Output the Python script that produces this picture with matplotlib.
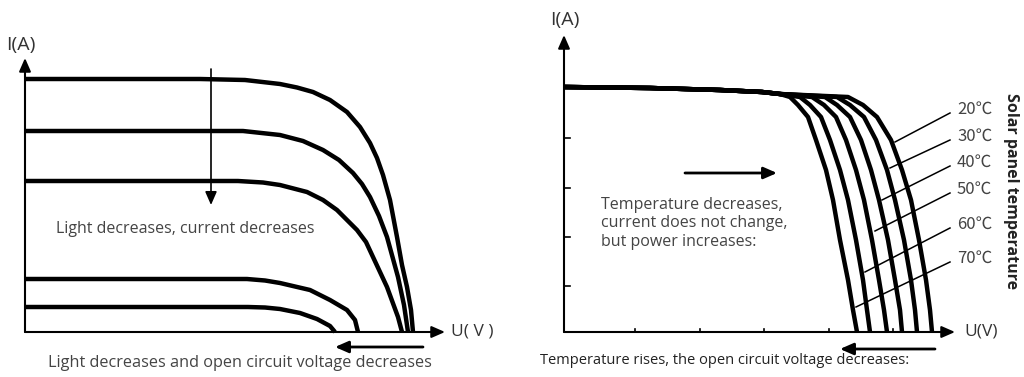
import numpy as np
import matplotlib
matplotlib.use("Agg")
import matplotlib.pyplot as plt

plt.rcParams['font.family'] = ['Open Sans', 'Noto Sans CJK SC', 'DejaVu Sans']

# ---- left panel: I-U curves for decreasing light ----
light_u = [
    [0, 8.75, 11, 12.75, 13.6, 14.4, 15.25, 16.1, 16.75, 17.25, 17.6, 17.9, 18.25, 18.6, 18.85, 19.1, 19.3, 19.4],
    [0, 10.9, 12.75, 13.9, 14.9, 15.7, 16.4, 16.85, 17.25, 17.7, 18.1, 18.65, 18.95, 19.15],
    [0, 10.65, 11.9, 12.75, 14.1, 14.9, 15.6, 16.6, 17.05, 17.4, 18.1, 18.65, 18.85],
    [0, 11.1, 12.0, 12.75, 14.25, 15.25, 16.1, 16.5, 16.65],
    [0, 11.15, 12.0, 12.75, 13.75, 14.6, 15.25, 15.5],
]
light_i = [
    [5.06, 5.06, 5.04, 4.96, 4.89, 4.8, 4.64, 4.4, 4.1, 3.78, 3.48, 3.14, 2.64, 1.9, 1.34, 0.9, 0.44, 0],
    [4.02, 4.02, 3.94, 3.82, 3.64, 3.44, 3.18, 2.96, 2.7, 2.32, 1.9, 1.1, 0.54, 0],
    [3.02, 3.02, 2.99, 2.94, 2.8, 2.64, 2.44, 2.04, 1.8, 1.5, 0.9, 0.3, 0],
    [1.06, 1.06, 1.03, 0.98, 0.84, 0.64, 0.44, 0.24, 0],
    [0.5, 0.5, 0.49, 0.46, 0.38, 0.26, 0.12, 0],
]

# ---- right panel: I-U curves for temperature ----
common_u = [0, 4.3, 7.8, 9.9, 10.8]
common_i = [4.9, 4.88, 4.84, 4.8, 4.76]
temp_i = [4.7, 4.54, 4.3, 3.84, 3.24, 2.64, 1.84, 1.04, 0.44, 0]
temps = ['20℃', '30℃', '40℃', '50℃', '60℃', '70℃']
temp_u = [
    [14.2, 14.95, 15.65, 16.35, 16.9, 17.35, 17.75, 18.1, 18.3, 18.4],
    [13.65, 14.3, 15.0, 15.6, 16.15, 16.55, 17.0, 17.35, 17.55, 17.65],
    [13.05, 13.65, 14.3, 14.85, 15.35, 15.75, 16.2, 16.55, 16.8, 16.9],
    [12.4, 13.0, 13.6, 14.1, 14.6, 15.0, 15.4, 15.75, 16.0, 16.15],
    [11.8, 12.3, 12.85, 13.3, 13.8, 14.2, 14.6, 14.95, 15.15, 15.3],
    [11.3, 11.7, 12.2, 12.6, 13.1, 13.45, 13.8, 14.2, 14.45, 14.65],
]
# leader lines: start (on curve) and end (at label)
lead_u0 = [16.55, 16.3, 15.9, 15.55, 15.05, 14.6]
lead_i0 = [3.8, 3.28, 2.64, 2.02, 1.2, 0.5]
lead_u1 = 19.3
lead_i1 = [4.38, 3.84, 3.32, 2.78, 2.08, 1.4]
x_ticks = [3.55, 6.8, 10.0, 13.25, 16.45]
y_ticks = [0.92, 1.9, 2.88, 3.88]

txt_col = '#444444'
lab_col = '#333333'


def arrow(ax, start, end, lw=1.5, hl=0.8, hw=0.35):
    ax.annotate('', xy=end, xytext=start,
                arrowprops=dict(arrowstyle='-|>,head_length=%s,head_width=%s' % (hl, hw),
                                lw=lw, color='k', shrinkA=0, shrinkB=0),
                annotation_clip=False)


fig = plt.figure(figsize=(10.24, 3.77), dpi=100)
ax1 = fig.add_axes([0, 0, 0.5, 1])
ax2 = fig.add_axes([0.5, 0, 0.5, 1])
ax1.set_xlim(-1.25, 24.35)
ax2.set_xlim(-2.6, 23.0)
for ax in (ax1, ax2):
    ax.set_ylim(-0.9, 6.64)
    ax.axis('off')

# left
for u, i in zip(light_u, light_i):
    ax1.plot(u, i, color='k', lw=3.2, solid_capstyle='butt', solid_joinstyle='round')
arrow(ax1, (0, 0), (0, 5.48))
arrow(ax1, (0, 0), (21.0, 0))
arrow(ax1, (9.3, 5.26), (9.3, 2.54), lw=1.2)
arrow(ax1, (19.9, -0.3), (15.5, -0.3), lw=2.0)
ax1.text(-0.95, 5.74, 'I(A)', fontsize=14, va='center', ha='left', color=lab_col)
ax1.text(21.3, 0, 'U( V )', fontsize=12.5, va='center', ha='left', color=lab_col)
ax1.text(1.55, 2.06, 'Light decreases, current decreases', fontsize=11.5,
         va='center', ha='left', color=txt_col)
ax1.text(1.15, -0.62, 'Light decreases and open circuit voltage decreases', fontsize=11.7,
         va='center', ha='left', color=txt_col)

# right
for u in temp_u:
    ax2.plot(common_u + u, common_i + temp_i, color='k', lw=3.2,
             solid_capstyle='butt', solid_joinstyle='round')
for k in range(len(temps)):
    ax2.plot([lead_u0[k], lead_u1], [lead_i0[k], lead_i1[k]], color='k', lw=1.1)
    ax2.text(lead_u1 + 0.35, lead_i1[k] + 0.08, temps[k], fontsize=12,
             family=['Noto Sans CJK SC', 'DejaVu Sans'],
             va='center', ha='left', color=txt_col)
arrow(ax2, (0, 0), (0, 5.94))
arrow(ax2, (0, 0), (19.55, 0))
for t in y_ticks:
    ax2.plot([0, 0.3], [t, t], color='k', lw=1.2)
for t in x_ticks:
    ax2.plot([t, t], [0, 0.07], color='k', lw=1.2)
arrow(ax2, (6.05, 3.18), (10.65, 3.18), lw=2.0)
arrow(ax2, (18.55, -0.34), (13.8, -0.34), lw=2.0)
ax2.text(-0.7, 6.24, 'I(A)', fontsize=14, va='center', ha='left', color=lab_col)
ax2.text(20.0, 0, 'U(V)', fontsize=12.5, va='center', ha='left', color=lab_col)
ax2.text(1.85, 2.7, 'Temperature decreases,\ncurrent does not change,\nbut power increases:',
         fontsize=11.5, va='top', ha='left', color=txt_col, linespacing=1.2)
ax2.text(-1.2, -0.56, 'Temperature rises, the open circuit voltage decreases:', fontsize=10.5,
         va='center', ha='left', color='#222222')
ax2.text(22.35, 2.82, 'Solar panel temperature', fontsize=11.5, fontweight='bold',
         rotation=270, va='center', ha='center', color='#222222')

fig.savefig('out.png', dpi=100)
